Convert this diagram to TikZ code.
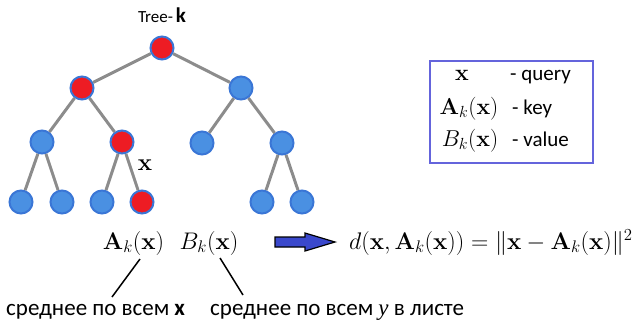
\RequirePackage{fix-cm}
\documentclass[tikz,border=0pt]{standalone}
\usepackage{amsmath}
\usepackage[no-math]{fontspec}
\setmainfont{Carlito}
\definecolor{nodeblue}{RGB}{74,144,226}
\definecolor{rimblue}{RGB}{58,118,214}
\definecolor{nodered}{RGB}{237,28,36}
\definecolor{edgegray}{RGB}{140,140,140}
\definecolor{boxblue}{RGB}{100,100,220}
\definecolor{arrowblue}{RGB}{58,72,204}
\tikzset{
  bnode/.style = {circle, draw=rimblue, line width=2pt, fill=nodeblue,
                  minimum size=23pt, inner sep=0pt},
  rnode/.style = {bnode, fill=nodered},
  edge/.style  = {edgegray, line width=3pt},
  mth/.style   = {font=\fontsize{24}{28}\selectfont, inner sep=0pt},
  lmth/.style  = {font=\fontsize{23}{27}\selectfont, inner sep=0pt},
  txt/.style   = {font=\fontsize{23}{27}\selectfont, inner sep=0pt},
  lgd/.style   = {font=\fontsize{21}{25}\selectfont, inner sep=0pt},
  lead/.style  = {line width=1.5pt, black},
  blockarr/.style = {draw=black, line width=1.2pt, fill=arrowblue, line join=miter}
}

\begin{document}
\begin{tikzpicture}[x=1pt, y=-1pt]
  \useasboundingbox (0,0) rectangle (632,322);

  % title
  \node[inner sep=0pt, anchor=base] (title) at (162,22)
    {\fontsize{17}{20}\selectfont Tree-\,{\fontsize{21}{24}\selectfont\textbf{k}}};

  % tree
  \node[rnode] (n0)  at (162,48) {};
  \node[rnode] (n1)  at (82,88)  {};
  \node[bnode] (n2)  at (241,88) {};
  \node[bnode] (n3)  at (42,142) {};
  \node[rnode] (n4)  at (122,142) {};
  \node[bnode] (n5)  at (202,143) {};
  \node[bnode] (n6)  at (282,143) {};
  \node[bnode] (n7)  at (21,202) {};
  \node[bnode] (n8)  at (62,202) {};
  \node[bnode] (n9)  at (102,202) {};
  \node[rnode] (n10) at (142,202) {};
  \node[bnode] (n11) at (262,202) {};
  \node[bnode] (n12) at (302,202) {};

  \draw[edge] (n0) -- (n1);
  \draw[edge] (n0) -- (n2);
  \draw[edge] (n1) -- (n3);
  \draw[edge] (n1) -- (n4);
  \draw[edge] (n2) -- (n5);
  \draw[edge] (n2) -- (n6);
  \draw[edge] (n3) -- (n7);
  \draw[edge] (n3) -- (n8);
  \draw[edge] (n4) -- (n9);
  \draw[edge] (n4) -- (n10);
  \draw[edge] (n6) -- (n11);
  \draw[edge] (n6) -- (n12);

  \node[mth] (xq) at (145,165) {$\mathbf{x}$};

  % legend
  \node[draw=boxblue, line width=1.2pt, minimum width=163pt,
        minimum height=102pt, inner sep=0pt] (legend) at (511.5,112) {};
  \node[lmth, anchor=base] (lx) at (462,80)  {$\mathbf{x}$};
  \node[lgd, anchor=base west] (lxt) at (510,80) {- query};
  \node[lmth, anchor=base] (la) at (469,114) {$\mathbf{A}_k(\mathbf{x})$};
  \node[lgd, anchor=base west] (lat) at (512,114) {- key};
  \node[lmth, anchor=base] (lb) at (470,146) {$B_k(\mathbf{x})$};
  \node[lgd, anchor=base west] (lbt) at (512,146) {- value};

  % bottom row
  \node[mth, anchor=base] (ak) at (133.5,249) {$\mathbf{A}_k(\mathbf{x})$};
  \node[mth, anchor=base] (bk) at (209,249) {$B_k(\mathbf{x})$};
  \node[mth, anchor=base west] (dist) at (349,249)
    {$d(\mathbf{x},\mathbf{A}_k(\mathbf{x})) = \|\mathbf{x}-\mathbf{A}_k(\mathbf{x})\|^2$};
  \draw[blockarr] (275,237) -- (305,237) -- (305,233) -- (335,242)
    -- (305,251) -- (305,247) -- (275,247) -- cycle;

  \node[txt, anchor=base west] (mx) at (6,315) {среднее по всем \textbf{x}};
  \node[txt, anchor=base west] (my) at (210,315) {среднее по всем {\fontspec{Liberation Serif}\itshape y} в листе};

  \coordinate (a1) at (140,259);
  \coordinate (a2) at (112,297);
  \coordinate (b1) at (220,258);
  \coordinate (b2) at (243,295);
  \draw[lead] (a1) -- (a2);
  \draw[lead] (b1) -- (b2);
\end{tikzpicture}
\end{document}
